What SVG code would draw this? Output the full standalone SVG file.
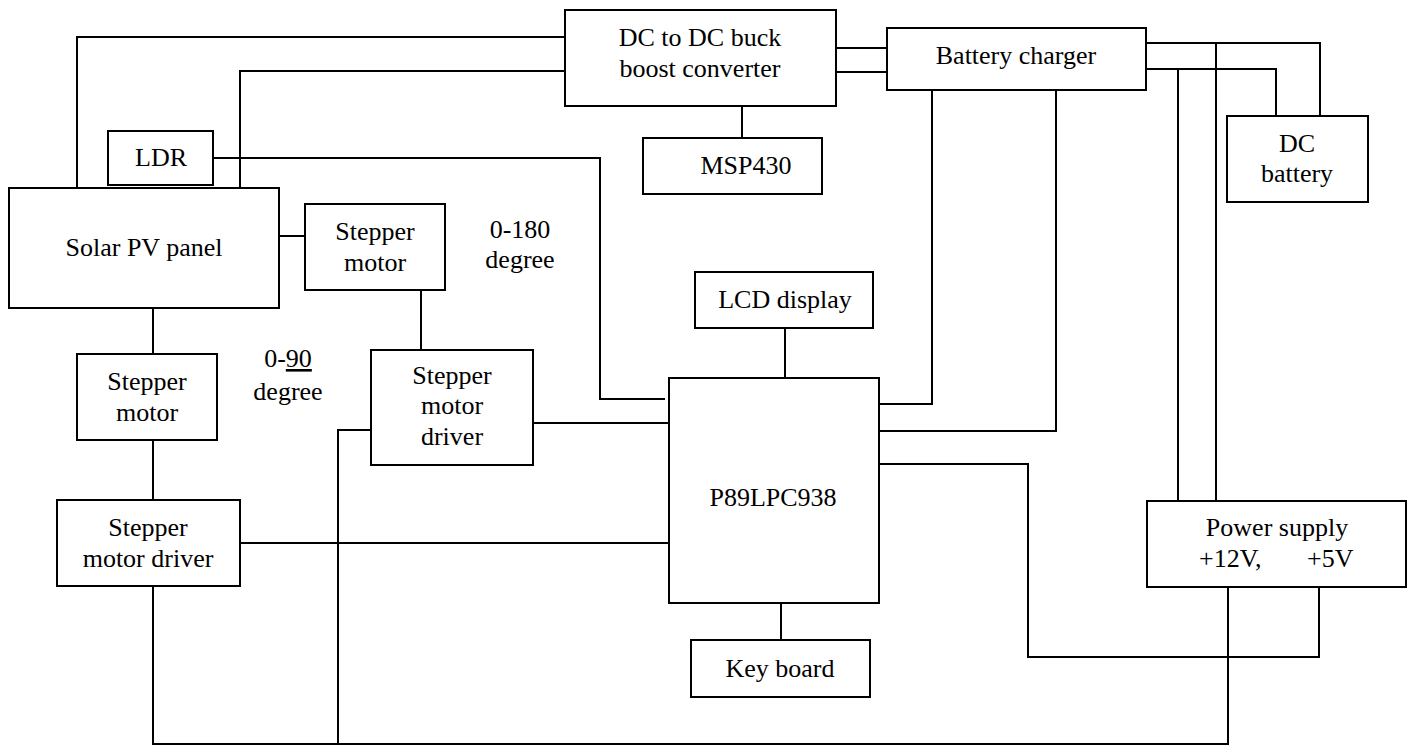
<svg xmlns="http://www.w3.org/2000/svg" width="1416" height="747" viewBox="0 0 1416 747">
<style>
rect.box{fill:#fff;stroke:#000;stroke-width:2}
text{font-family:"Liberation Serif","Times New Roman",serif;font-size:26px;fill:#000;text-anchor:middle}
.wire{fill:none;stroke:#000;stroke-width:2}
</style>
<rect x="0" y="0" width="1416" height="747" fill="#fff"/>
<g id="connectors">
<path class="wire" d="M77,188 V37 H565"/>
<path class="wire" d="M240,188 V71 H565"/>
<path class="wire" d="M213,158 H600 V399 H665"/>
<path class="wire" d="M279,236 H305"/>
<path class="wire" d="M421,290 V350"/>
<path class="wire" d="M153,308 V354"/>
<path class="wire" d="M153,440 V500"/>
<path class="wire" d="M533,423 H669"/>
<path class="wire" d="M240,543 H669"/>
<path class="wire" d="M371,430 H338 V744"/>
<path class="wire" d="M153,586 V744 H1228 V587"/>
<path class="wire" d="M879,464 H1028 V657 H1319 V587"/>
<path class="wire" d="M932,90 V404 H879"/>
<path class="wire" d="M1056,90 V431 H879"/>
<path class="wire" d="M836,48 H887"/>
<path class="wire" d="M836,72 H887"/>
<path class="wire" d="M742,106 V138"/>
<path class="wire" d="M1146,43 H1320 V116"/>
<path class="wire" d="M1146,69 H1276 V116"/>
<path class="wire" d="M1178,69 V501"/>
<path class="wire" d="M1216,43 V501"/>
<path class="wire" d="M785,328 V378"/>
<path class="wire" d="M781,603 V640"/>
</g>
<g id="dcdc"><rect class="box" x="565" y="10" width="271" height="96"/><text x="700" y="46">DC to DC buck</text><text x="700" y="77">boost converter</text></g>
<g id="charger"><rect class="box" x="887" y="28" width="259" height="62"/><text x="1016" y="64">Battery charger</text></g>
<g id="msp430"><rect class="box" x="643" y="138" width="179" height="56"/><text x="746" y="174">MSP430</text></g>
<g id="ldr"><rect class="box" x="108" y="131" width="105" height="54"/><text x="161" y="166">LDR</text></g>
<g id="battery"><rect class="box" x="1227" y="116" width="141" height="86"/><text x="1297" y="152">DC</text><text x="1297" y="182">battery</text></g>
<g id="solar"><rect class="box" x="9" y="188" width="270" height="120"/><text x="144" y="256">Solar PV panel</text></g>
<g id="stepper1"><rect class="box" x="305" y="204" width="140" height="86"/><text x="375" y="240">Stepper</text><text x="375" y="271">motor</text></g>
<g id="label180"><text x="520" y="238">0-180</text><text x="520" y="268">degree</text></g>
<g id="lcd"><rect class="box" x="695" y="272" width="178" height="56"/><text x="785" y="308">LCD display</text></g>
<g id="stepper2"><rect class="box" x="77" y="354" width="140" height="86"/><text x="147" y="390">Stepper</text><text x="147" y="421">motor</text></g>
<g id="label90"><text x="288" y="367">0-<tspan text-decoration="underline">90</tspan></text><text x="288" y="400">degree</text></g>
<g id="driver1"><rect class="box" x="371" y="350" width="162" height="115"/><text x="452" y="384">Stepper</text><text x="452" y="414">motor</text><text x="452" y="445">driver</text></g>
<g id="mcu"><rect class="box" x="669" y="378" width="210" height="225"/><text x="773" y="506">P89LPC938</text></g>
<g id="driver2"><rect class="box" x="57" y="500" width="183" height="86"/><text x="148" y="536">Stepper</text><text x="148" y="567">motor driver</text></g>
<g id="power"><rect class="box" x="1147" y="501" width="259" height="86"/><text x="1277" y="536">Power supply</text><text style="text-anchor:start" y="567"><tspan x="1199">+12V,</tspan><tspan x="1307">+5V</tspan></text></g>
<g id="keyboard"><rect class="box" x="691" y="640" width="179" height="57"/><text x="780" y="677">Key board</text></g>
</svg>
